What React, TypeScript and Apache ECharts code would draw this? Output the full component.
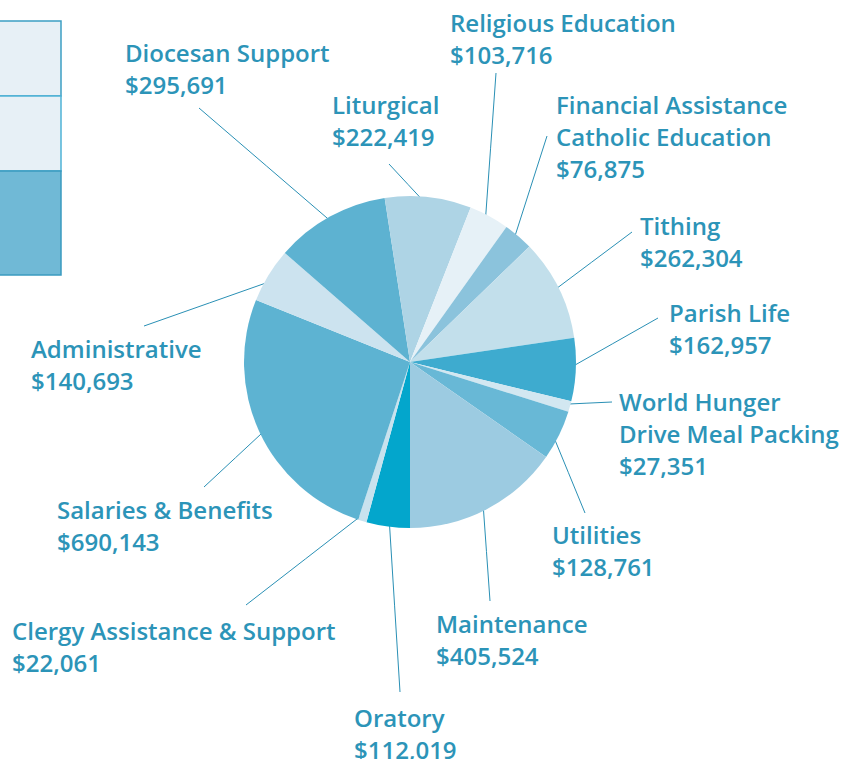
import React, { useEffect, useRef } from "react";
import * as echarts from "echarts";

// Data, clockwise from the 6 o'clock position
const categories = [
  "Oratory",
  "Clergy Assistance & Support",
  "Salaries & Benefits",
  "Administrative",
  "Diocesan Support",
  "Liturgical",
  "Religious Education",
  "Financial Assistance\nCatholic Education",
  "Tithing",
  "Parish Life",
  "World Hunger\nDrive Meal Packing",
  "Utilities",
  "Maintenance",
];
const values = [
  112019, 22061, 690143, 140693, 295691, 222419, 103716, 76875,
  262304, 162957, 27351, 128761, 405524,
];
const colors = [
  "#03a6cc", "#c8e2ee", "#5db3d2", "#cce3ef", "#5db2d1", "#aed4e5",
  "#e6f1f7", "#8bc3dc", "#c2dfeb", "#3eabcf", "#d2e7f1", "#68b8d6", "#9ccbe1",
];

// Label text top-left positions and label-line outer ends
const labelPos: number[][] = [
  [354, 701], [12, 614], [57, 493], [31, 332], [125, 36], [332, 88],
  [450, 6], [556, 88], [640, 209], [669, 296], [619, 385], [552, 518], [436, 607],
];
const lineEnd: number[][] = [
  [400, 692], [246, 605], [204, 487], [144, 326], [199, 108], [389, 164],
  [496, 73], [547, 136], [632, 232], [658, 318], [612, 402], [585, 513], [490, 601],
];

const CX = 410;
const CY = 362;
const R = 166;
const TEXT = "#2c94b8";

export default function App() {
  const ref = useRef<HTMLDivElement>(null);
  useEffect(() => {
    if (!ref.current) return;
    const chart = echarts.init(ref.current, null, { renderer: "svg" });
    const fmt = (v: number) => "$" + v.toLocaleString("en-US");
    chart.setOption({
      animation: false,
      backgroundColor: "#ffffff",
      graphic: [
        { type: "rect", shape: { x: -10, y: 21, width: 71, height: 75 }, style: { fill: "#e7f0f6", stroke: "#3d9fc3", lineWidth: 1.5 } },
        { type: "rect", shape: { x: -10, y: 96, width: 71, height: 75 }, style: { fill: "#e7f0f6", stroke: "#4fb3d6", lineWidth: 1.5 } },
        { type: "rect", shape: { x: -10, y: 171, width: 71, height: 104 }, style: { fill: "#70b9d6", stroke: "#3a9ac0", lineWidth: 1.5 } },
      ],
      series: [
        {
          type: "pie",
          center: [CX, CY],
          radius: [0, R],
          startAngle: -90,
          clockwise: true,
          avoidLabelOverlap: false,
          data: categories.map((n, i) => ({
            name: n,
            value: values[i],
            itemStyle: { color: colors[i] },
          })),
          label: {
            show: true,
            position: "outside",
            formatter: (p: any) => p.name + "\n" + fmt(p.value),
            color: TEXT,
            fontFamily: "'Open Sans', sans-serif",
            fontSize: 24,
            fontWeight: 600,
            lineHeight: 32,
          },
          labelLine: {
            show: true,
            lineStyle: { color: "#2a90b5", width: 1 },
          },
          emphasis: { disabled: true },
          labelLayout: (params: any) => {
            const i = params.dataIndex;
            const p0 = params.labelLinePoints ? params.labelLinePoints[0] : [CX, CY];
            const inner = [CX + (p0[0] - CX) * 0.95, CY + (p0[1] - CY) * 0.95];
            const outer = lineEnd[i];
            const mid = [(inner[0] + outer[0]) / 2, (inner[1] + outer[1]) / 2];
            return {
              x: labelPos[i][0],
              y: labelPos[i][1],
              align: "left",
              verticalAlign: "top",
              labelLinePoints: [inner, mid, outer],
            };
          },
        },
      ],
    });
    return () => chart.dispose();
  }, []);
  return (
    <div
      ref={ref}
      style={{ position: "fixed", left: 0, top: 0, width: 859, height: 759 }}
    />
  );
}
